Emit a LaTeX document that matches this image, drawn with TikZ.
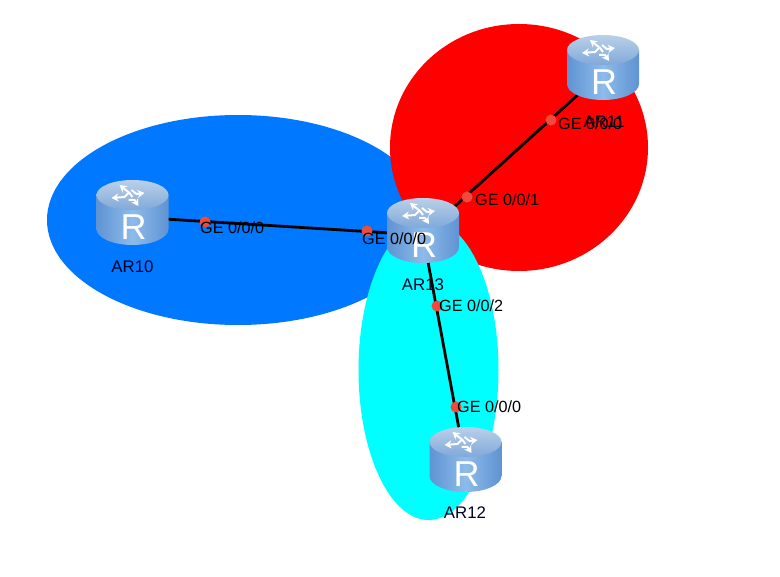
\documentclass[tikz,border=0pt]{standalone}
\usepackage{fontspec}
\setmainfont{Liberation Sans}
\usetikzlibrary{arrows.meta}
\definecolor{zoneblue}{HTML}{0078FF}
\definecolor{zonered}{HTML}{FF0000}
\definecolor{zonecyan}{HTML}{00FFFF}
\definecolor{portdot}{HTML}{F04A3A}
\definecolor{rsideA}{HTML}{5F93D2}
\definecolor{rsideB}{HTML}{8DBBEA}
\definecolor{rtopA}{HTML}{BAD0E8}
\definecolor{rtopB}{HTML}{80A9DA}
\tikzset{
  x=1pt,y=-1pt,
  zone/.style={draw=none},
  anchorbox/.style={inner sep=0pt,minimum size=1pt,draw=none},
  linkline/.style={draw=black,line width=2.8pt},
  portdotstyle/.style={circle,fill=portdot,draw=none,inner sep=0pt,minimum size=11pt},
  portlabel/.style={anchor=west,inner sep=0pt,text=black,font=\fontsize{16.2}{18}\selectfont},
  routername/.style={inner sep=0pt,text=black!85!blue,font=\fontsize{16.8}{18}\selectfont},
  zig/.style={draw=white,line width=2pt,-{Stealth[length=7pt,width=8pt]}},
  router/.pic={
    \path[left color=rsideA,right color=rsideA,middle color=rsideB]
      (-36,-22) -- (-36,12) arc[start angle=180,end angle=360,x radius=36,y radius=-16] -- (36,-22) -- cycle;
    \path[top color=rtopA,bottom color=rtopB]
      (0,-22) ellipse[x radius=36,y radius=15];
    \draw[zig] (0,-20) -- (-3,-24) -- (-13,-32);
    \draw[zig] (-4,-24) -- (-8,-20) -- (-21,-19);
    \draw[zig] (-1,-27) -- (4,-23) -- (12,-24);
    \draw[zig] (-4,-17) -- (2,-17) -- (6,-11);
    \node[text=white,inner sep=0pt,font=\fontsize{36}{38}\selectfont] at (1,10) {R};
  }
}
\begin{document}
\begin{tikzpicture}
\useasboundingbox (0,0) rectangle (780,577);
\fill[white] (0,0) rectangle (780,577);
\path[zone,fill=zoneblue] (238,220) ellipse[x radius=191,y radius=105];
\path[zone,fill=zonered] (519,147.5) ellipse[x radius=129,y radius=123.5];
\path[zone,fill=zonecyan] (428.5,370) ellipse[x radius=70,y radius=150];

\node[anchorbox] (ar10) at (132.5,217) {};
\node[anchorbox] (ar13) at (423,235) {};
\node[anchorbox] (ar11) at (603,72) {};
\node[anchorbox] (ar12) at (465.5,464) {};

\node[routername] (n10) at (132.5,267) {AR10};
\node[routername] (n13) at (423,285) {AR13};
\node[routername] (n11) at (604,122) {AR11};
\node[routername] (n12) at (465,513) {AR12};

\draw[linkline] (ar10.center) -- (ar13.center);
\draw[linkline] (ar13.center) -- (ar11.center);
\draw[linkline] (ar13.center) -- (ar12.center);

\pic at (ar10) {router};
\pic at (ar13) {router};
\pic at (ar11) {router};
\pic at (ar12) {router};

\node[portdotstyle] (d1) at (205,222) {};
\node[portdotstyle] (d2) at (367,231) {};
\node[portdotstyle] (d3) at (467,197) {};
\node[portdotstyle] (d4) at (551,120) {};
\node[portdotstyle] (d5) at (437,306) {};
\node[portdotstyle] (d6) at (456,407) {};

\node[portlabel] (l1) at (200,228) {GE 0/0/0};
\node[portlabel] (l2) at (362,239) {GE 0/0/0};
\node[portlabel] (l3) at (475,200) {GE 0/0/1};
\node[portlabel] (l4) at (558,124) {GE 0/0/0};
\node[portlabel] (l5) at (439,306) {GE 0/0/2};
\node[portlabel] (l6) at (457,407) {GE 0/0/0};
\end{tikzpicture}
\end{document}
